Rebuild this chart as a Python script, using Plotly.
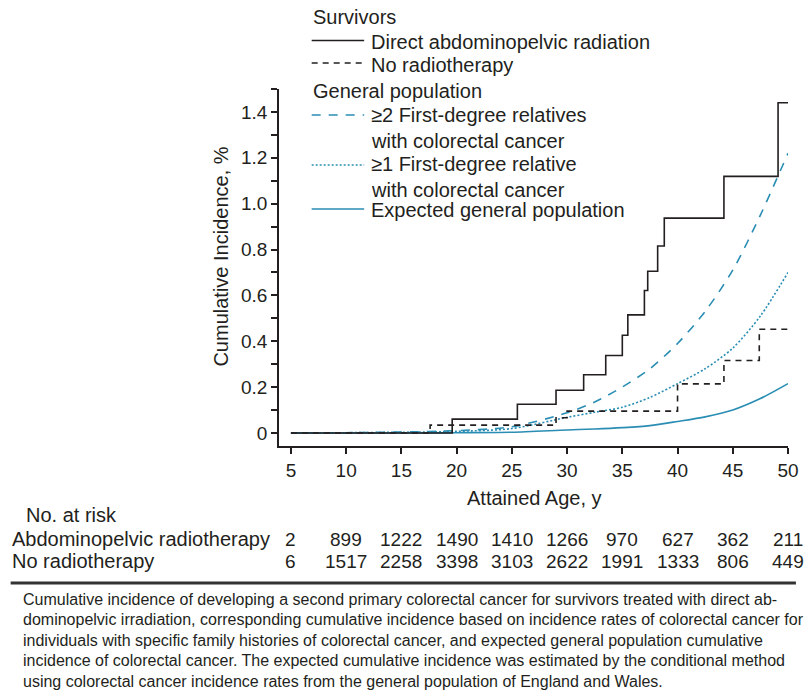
import plotly.graph_objects as go

# ---------------- data ----------------
ages_rt = [5, 19.6, 25.5, 29.0, 31.5, 33.5, 35.0, 35.5, 37.0, 37.3, 38.2, 38.8, 44.2, 49.1, 50]
ci_rt = [0, 0.060, 0.125, 0.186, 0.254, 0.338, 0.426, 0.515, 0.621, 0.705, 0.815, 0.937, 1.119, 1.44, 1.44]

ages_nort = [5, 17.6, 29.0, 30.0, 40.0, 44.2, 47.4, 50]
ci_nort = [0, 0.034, 0.066, 0.095, 0.214, 0.316, 0.452, 0.452]

ages_pop = [5, 10, 15, 20, 25, 30, 32.5, 35, 37.5, 40, 42.5, 45, 47.5, 50]
ci_two_rel = [0, 0.001, 0.004, 0.010, 0.027, 0.088, 0.135, 0.200, 0.280, 0.390, 0.530, 0.710, 0.950, 1.220]
ci_one_rel = [0, 0.001, 0.003, 0.007, 0.019, 0.068, 0.090, 0.112, 0.155, 0.215, 0.280, 0.370, 0.510, 0.700]
ci_general = [0, 0, 0, 0.001, 0.003, 0.013, 0.017, 0.023, 0.032, 0.050, 0.070, 0.100, 0.150, 0.215]

risk_ages = [5, 10, 15, 20, 25, 30, 35, 40, 45, 50]
risk_rt = [2, 899, 1222, 1490, 1410, 1266, 970, 627, 362, 211]
risk_nort = [6, 1517, 2258, 3398, 3103, 2622, 1991, 1333, 806, 449]

x_ticks = [5, 10, 15, 20, 25, 30, 35, 40, 45, 50]
y_ticks = [0, 0.2, 0.4, 0.6, 0.8, 1.0, 1.2, 1.4]
y_ticktext = ["0", "0.2", "0.4", "0.6", "0.8", "1.0", "1.2", "1.4"]

caption_lines = [
    "Cumulative incidence of developing a second primary colorectal cancer for survivors treated with direct ab-",
    "dominopelvic irradiation, corresponding cumulative incidence based on incidence rates of colorectal cancer for",
    "individuals with specific family histories of colorectal cancer, and expected general population cumulative",
    "incidence of colorectal cancer. The expected cumulative incidence was estimated by the conditional method",
    "using colorectal cancer incidence rates from the general population of England and Wales.",
]

# ---------------- style ----------------
BLACK = "#231f20"
BLUE = "#2a8db3"
FONT = "Liberation Sans, Arial, Helvetica, sans-serif"
FS = 20
TFS = 19

W, H = 811, 693
ML, MR, MT, MB = 279, 18, 89, 247
L, R, T, B = ML, W - MR, MT, H - MB


def px(x):
    return (x - L) / (R - L)


def py(y):
    return (B - y) / (B - T)


fig = go.Figure()

fig.add_trace(go.Scatter(x=ages_pop, y=ci_general, mode="lines",
                         line=dict(color=BLUE, width=1.6, shape="spline", smoothing=0.8),
                         showlegend=False))
fig.add_trace(go.Scatter(x=ages_pop, y=ci_one_rel, mode="lines",
                         line=dict(color=BLUE, width=1.6, dash="2px,2px", shape="spline", smoothing=0.8),
                         showlegend=False))
fig.add_trace(go.Scatter(x=ages_pop, y=ci_two_rel, mode="lines",
                         line=dict(color=BLUE, width=1.6, dash="9px,8px", shape="spline", smoothing=0.8),
                         showlegend=False))
fig.add_trace(go.Scatter(x=ages_nort, y=ci_nort, mode="lines",
                         line=dict(color=BLACK, width=1.6, dash="6px,5px", shape="hv"),
                         showlegend=False))
fig.add_trace(go.Scatter(x=ages_rt, y=ci_rt, mode="lines",
                         line=dict(color=BLACK, width=1.6, shape="hv"),
                         showlegend=False))

annotations = []
shapes = []


def text(x, y, s, size=FS, xanchor="left", **kw):
    annotations.append(dict(x=px(x), y=py(y), xref="paper", yref="paper", text=s, showarrow=False,
                            xanchor=xanchor, yanchor="middle",
                            font=dict(family=FONT, size=size, color=BLACK), **kw))


def sample(y, color, dash):
    shapes.append(dict(type="line", xref="paper", yref="paper", x0=px(312), x1=px(365), y0=py(y), y1=py(y),
                       line=dict(color=color, width=1.6, dash=dash)))


# legend
text(311, 17, "Survivors")
sample(40.5, BLACK, "solid")
text(370, 42, "Direct abdominopelvic radiation")
sample(63, BLACK, "6px,5px")
text(370, 65, "No radiotherapy")
text(311, 91, "General population")
sample(115, BLUE, "9px,8px")
text(370, 115, "≥2 First-degree relatives")
text(370, 141, "with colorectal cancer")
sample(165, BLUE, "2px,2px")
text(370, 164, "≥1 First-degree relative")
text(370, 190, "with colorectal cancer")
sample(209, BLUE, "solid")
text(370, 210, "Expected general population")

# axis titles
text(220, 257, "Cumulative Incidence, %", xanchor="center", textangle=-90)
text(537, 498, "Attained Age, y", xanchor="center")

# risk table
text(21, 515, "No. at risk")
text(7, 539, "Abdominopelvic radiotherapy")
text(7, 561, "No radiotherapy")
for a, v1, v2 in zip(risk_ages, risk_rt, risk_nort):
    for v, yy in ((v1, 539), (v2, 561)):
        annotations.append(dict(x=a, y=py(yy), xref="x", yref="paper", text=str(v), showarrow=False,
                                xanchor="center", yanchor="middle",
                                font=dict(family=FONT, size=TFS, color=BLACK)))

# rule and caption
shapes.append(dict(type="line", xref="paper", yref="paper", x0=px(8), x1=px(801), y0=py(583), y1=py(583),
                   line=dict(color="#333333", width=3)))
for i, line in enumerate(caption_lines):
    text(18, 599 + i * 20.5, line, size=16)

fig.update_layout(
    width=W, height=H, autosize=False,
    margin=dict(l=ML, r=MR, t=MT, b=MB, pad=0),
    paper_bgcolor="white", plot_bgcolor="white",
    font=dict(family=FONT, size=FS, color=BLACK),
    annotations=annotations, shapes=shapes,
    showlegend=False,
)
fig.update_xaxes(range=[3.92, 50], tickvals=x_ticks, showline=True, linecolor=BLACK, linewidth=1.5,
                 ticks="outside", ticklen=6, tickwidth=1.5, tickcolor=BLACK, showgrid=False, zeroline=False,
                 tickfont=dict(family=FONT, size=TFS, color=BLACK))
fig.update_yaxes(range=[-0.057, 1.5], tickvals=y_ticks, ticktext=y_ticktext, showline=True, linecolor=BLACK,
                 linewidth=1.5, ticks="outside", ticklen=6, tickwidth=1.5, tickcolor=BLACK, showgrid=False,
                 zeroline=False, tickfont=dict(family=FONT, size=TFS, color=BLACK),
                 minor=dict(dtick=0.1, tick0=0, ticks="outside", ticklen=6, tickwidth=1.5, tickcolor=BLACK,
                            showgrid=False))

fig.write_html("out.html", config={"displayModeBar": False},
               post_script="document.body.style.margin='0';document.body.style.overflow='hidden';")
